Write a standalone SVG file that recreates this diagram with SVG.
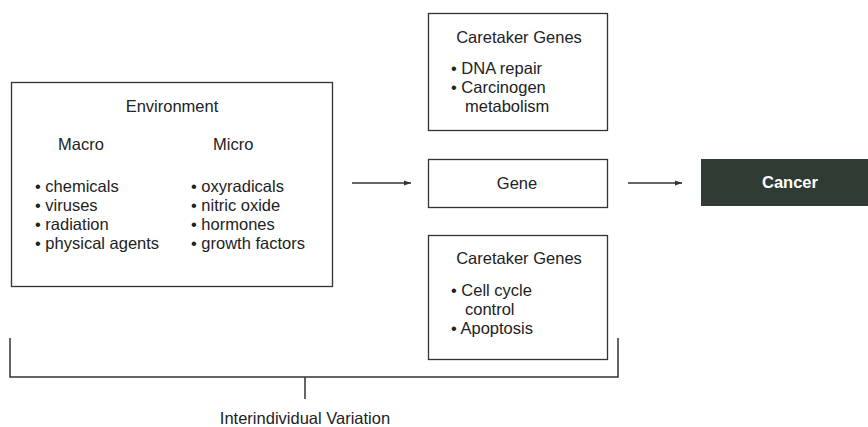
<svg xmlns="http://www.w3.org/2000/svg" width="868" height="427" viewBox="0 0 868 427">
<defs>
<marker id="ah" markerWidth="8" markerHeight="6" refX="7" refY="3" orient="auto" markerUnits="userSpaceOnUse">
<path d="M0,0.5 L7,3 L0,5.5 Z" fill="#333"/>
</marker>
<style>
.box{fill:#fff;stroke:#333;stroke-width:1.3}
.t{font-family:"Liberation Sans",Arial,sans-serif;font-size:16.5px;fill:#222}
.c{text-anchor:middle}
.ln{stroke:#333;stroke-width:1.5;fill:none}
</style>
</defs>
<rect width="868" height="427" fill="#fff"/>
<g id="environment">
<rect class="box" x="11.5" y="82.5" width="321" height="204"/>
<text class="t c" x="172" y="112">Environment</text>
<text class="t" x="58" y="150">Macro</text>
<text class="t" x="213" y="150">Micro</text>
<text class="t" x="35" y="192">• chemicals</text>
<text class="t" x="35" y="211">• viruses</text>
<text class="t" x="35" y="230">• radiation</text>
<text class="t" x="35" y="249">• physical agents</text>
<text class="t" x="191" y="192">• oxyradicals</text>
<text class="t" x="191" y="211">• nitric oxide</text>
<text class="t" x="191" y="230">• hormones</text>
<text class="t" x="191" y="249">• growth factors</text>
</g>
<g id="caretaker-top">
<rect class="box" x="428.5" y="13.5" width="179" height="117"/>
<text class="t c" x="519" y="43">Caretaker Genes</text>
<text class="t" x="451" y="74">• DNA repair</text>
<text class="t" x="451" y="93">• Carcinogen</text>
<text class="t" x="465" y="112">metabolism</text>
</g>
<g id="gene">
<rect class="box" x="428.5" y="159.5" width="179" height="48"/>
<text class="t c" x="517" y="189">Gene</text>
</g>
<g id="caretaker-bottom">
<rect class="box" x="428.5" y="235.5" width="179" height="124"/>
<text class="t c" x="519" y="264">Caretaker Genes</text>
<text class="t" x="451" y="296">• Cell cycle</text>
<text class="t" x="465" y="315">control</text>
<text class="t" x="451" y="334">• Apoptosis</text>
</g>
<g id="cancer">
<rect x="701" y="159" width="167" height="47" fill="#2f3b33"/>
<text class="t c" x="790" y="188" style="fill:#fff;font-weight:bold">Cancer</text>
</g>
<g id="connectors">
<line class="ln" x1="352" y1="183" x2="411" y2="183" marker-end="url(#ah)"/>
<line class="ln" x1="628" y1="183" x2="682" y2="183" marker-end="url(#ah)"/>
<path class="ln" d="M10,338 V377 H618 V338"/>
<line class="ln" x1="305" y1="377" x2="305" y2="399"/>
</g>
<g id="variation">
<text class="t c" x="305" y="424">Interindividual Variation</text>
</g>
</svg>
